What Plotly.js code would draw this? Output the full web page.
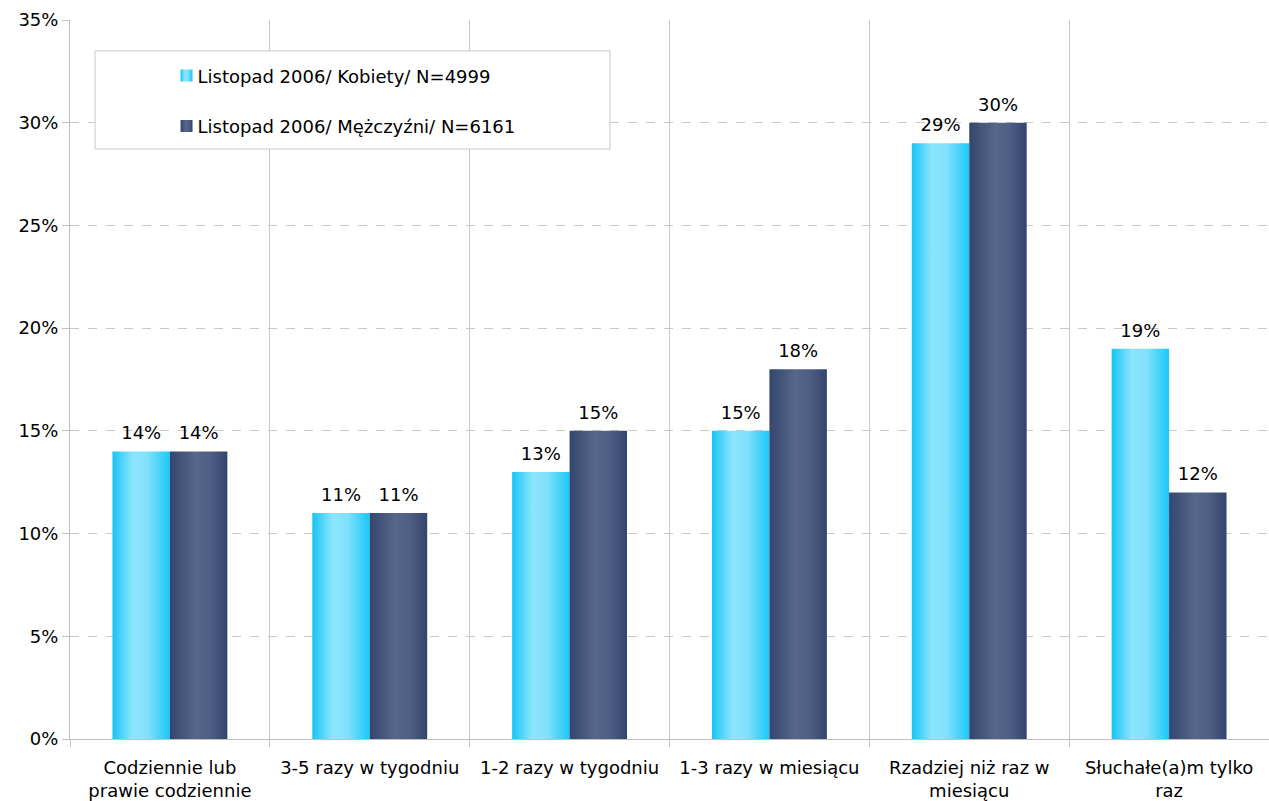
<!DOCTYPE html>
<html>
<head>
<meta charset="utf-8">
<script src="https://cdn.plot.ly/plotly-3.0.1.min.js"></script>
<style>html,body{margin:0;padding:0;background:#fff;}#chart{width:1269px;height:801px;}</style>
</head>
<body>
<div id="chart"></div>
<script>
const categories = [
  "Codziennie lub<br>prawie codziennie",
  "3-5 razy w tygodniu",
  "1-2 razy w tygodniu",
  "1-3 razy w miesiącu",
  "Rzadziej niż raz w<br>miesiącu",
  "Słuchałe(a)m tylko<br>raz"
];
const kobiety = [14, 11, 13, 15, 29, 19];
const mezczyzni = [14, 11, 15, 18, 30, 12];
const seriesNames = ["Listopad 2006/ Kobiety/ N=4999", "Listopad 2006/ Mężczyźni/ N=6161"];
const yTickVals = [0, 5, 10, 15, 20, 25, 30, 35];
const yTickText = ["0%", "5%", "10%", "15%", "20%", "25%", "30%", "35%"];

const font = {family: "DejaVu Sans, Verdana, sans-serif", size: 18, color: "#000"};

const traces = [
  {type: "bar", x: categories, y: kobiety, name: seriesNames[0], legendgroup: "a",
   marker: {color: "#5fd8fa"}, text: kobiety.map(v => v + "%"), textposition: "outside",
   textfont: font, cliponaxis: false, hoverinfo: "skip"},
  {type: "bar", x: categories, y: mezczyzni, name: seriesNames[1], legendgroup: "b",
   marker: {color: "#46567c"}, text: mezczyzni.map(v => v + "%"), textposition: "outside",
   textfont: font, cliponaxis: false, hoverinfo: "skip"}
];

const layout = {
  width: 1269, height: 801,
  margin: {l: 70, r: 0, t: 20, b: 62},
  paper_bgcolor: "#fff", plot_bgcolor: "#fff",
  font: font,
  barmode: "group", bargap: 0.425, bargroupgap: 0,
  showlegend: true,
  legend: {x: 0.073, y: 0.948, xanchor: "left", yanchor: "top", bgcolor: "rgba(0,0,0,0)",
           borderwidth: 0, font: font, traceorder: "grouped", tracegroupgap: 24,
           itemclick: false},
  xaxis: {type: "category", tickson: "boundaries", showgrid: true, gridcolor: "#c8c8c8",
          gridwidth: 1, showline: true, linecolor: "#c0c0c0", ticks: "outside", ticklen: 7,
          tickcolor: "#c0c0c0", tickfont: font, ticklabelstandoff: 12, automargin: false},
  yaxis: {range: [0, 35], tickvals: yTickVals, ticktext: yTickText, showgrid: true,
          gridcolor: "#c8c8c8", griddash: "dash", showline: true, linecolor: "#c0c0c0",
          ticks: "outside", ticklen: 7, tickcolor: "#c0c0c0", tickfont: font,
          zeroline: false, automargin: false},
  shapes: [
    {type: "rect", xref: "paper", yref: "paper", x0: 0.0209, x1: 0.4504, y0: 0.8206, y1: 0.957,
     line: {color: "#c8c8c8", width: 1}, fillcolor: "#fff", layer: "above"}
  ]
};

Plotly.newPlot("chart", traces, layout, {staticPlot: true}).then(function (gd) {
  const svg = gd.querySelector("svg.main-svg");
  const ns = "http://www.w3.org/2000/svg";
  let defs = svg.querySelector("defs");
  if (!defs) { defs = document.createElementNS(ns, "defs"); svg.insertBefore(defs, svg.firstChild); }
  function addGrad(id, stops) {
    const g = document.createElementNS(ns, "linearGradient");
    g.setAttribute("id", id);
    g.setAttribute("x1", "0"); g.setAttribute("x2", "1");
    g.setAttribute("y1", "0"); g.setAttribute("y2", "0");
    stops.forEach(s => {
      const st = document.createElementNS(ns, "stop");
      st.setAttribute("offset", s[0]);
      st.setAttribute("stop-color", s[1]);
      g.appendChild(st);
    });
    defs.appendChild(g);
  }
  addGrad("gradCyan", [["0", "#17c4f5"], ["0.35", "#8be5fd"], ["0.6", "#84e1fb"], ["1", "#19c8f7"]]);
  addGrad("gradDark", [["0", "#34466d"], ["0.45", "#57678a"], ["0.7", "#4f5e83"], ["1", "#33456c"]]);
  const grads = ["url(#gradCyan)", "url(#gradDark)"];
  gd.querySelectorAll(".barlayer .trace.bars").forEach((t, i) => {
    t.querySelectorAll("path").forEach(p => { p.style.fill = grads[i]; });
    t.querySelectorAll("text").forEach(tx => {
      tx.setAttribute("transform", "translate(0,-5) " + (tx.getAttribute("transform") || ""));
    });
  });
  gd.querySelectorAll(".legend .traces").forEach((t, i) => {
    t.querySelectorAll(".legendpoints").forEach(lp => {
      lp.setAttribute("transform", "translate(9,0) " + (lp.getAttribute("transform") || ""));
    });
    t.querySelectorAll(".legendpoints path").forEach(p => { p.style.fill = grads[i]; p.style.stroke = "none"; });
  });
});
</script>
</body>
</html>
